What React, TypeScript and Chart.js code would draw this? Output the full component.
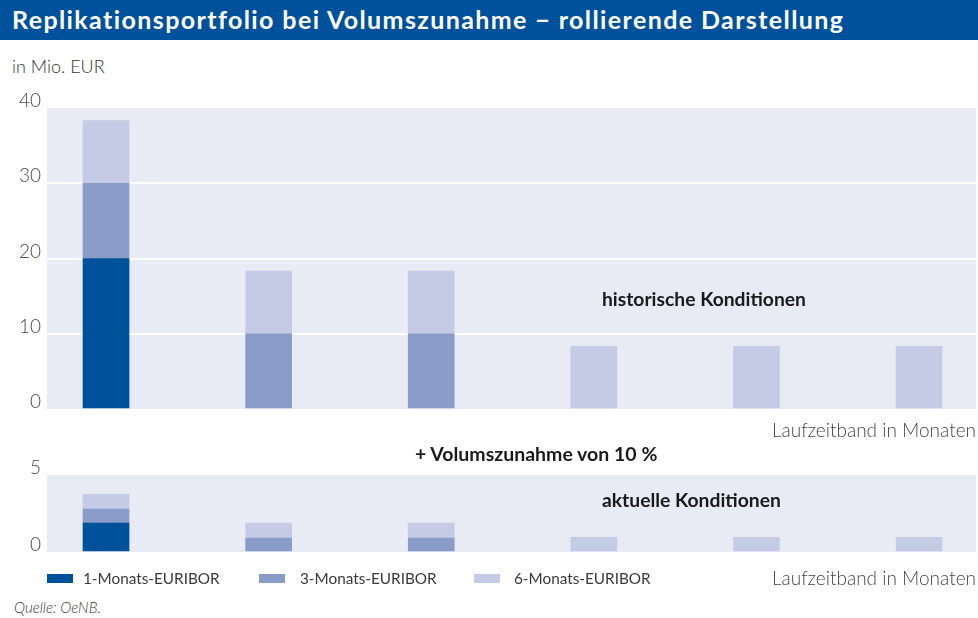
import React, { useEffect, useRef } from 'react';
import { Chart, registerables } from 'chart.js';

Chart.register(...registerables);

// ---- data ----
const bandPositions = [1, 2, 3, 4, 5, 6];
const seriesNames = ['1-Monats-EURIBOR', '3-Monats-EURIBOR', '6-Monats-EURIBOR'];
const seriesColors = ['#00519b', '#899bc8', '#c6cbe5'];

const histOneMonth = [20, 0, 0, 0, 0, 0];
const histThreeMonth = [10, 10, 10, 0, 0, 0];
const histSixMonth = [8.33, 8.33, 8.33, 8.33, 8.33, 8.33];

const curOneMonth = [1.87, 0, 0, 0, 0, 0];
const curThreeMonth = [0.91, 0.91, 0.91, 0, 0, 0];
const curSixMonth = [0.96, 0.96, 0.96, 0.96, 0.96, 0.96];

const histTicks = [0, 10, 20, 30, 40];
const curTicks = [0, 5];

const titleText = 'Replikationsportfolio bei Volumszunahme − rollierende Darstellung';
const unitText = 'in Mio. EUR';
const xAxisText = 'Laufzeitband in Monaten';
const histLabel = 'historische Konditionen';
const curLabel = 'aktuelle Konditionen';
const growthLabel = '+ Volumszunahme von 10 %';
const sourceText = 'Quelle: OeNB.';

const FONT = 'Lato, "Open Sans", sans-serif';
const PLOT_BG = '#e8eaf4';

const bgPlugin = {
  id: 'plotBg',
  beforeDraw(chart: any) {
    const { ctx, chartArea: a } = chart;
    ctx.save();
    ctx.fillStyle = PLOT_BG;
    ctx.fillRect(a.left, a.top, a.right - a.left, a.bottom - a.top);
    ctx.restore();
  },
};

function buildChart(
  canvas: HTMLCanvasElement,
  series: number[][],
  ticks: number[],
  padTop: number,
  xHeight: number,
  titlePadBottom: number
) {
  const maxV = ticks[ticks.length - 1];
  return new Chart(canvas, {
    type: 'bar',
    data: {
      datasets: series.map((vals, i) => ({
        label: seriesNames[i],
        data: vals.map((v, j) => ({ x: bandPositions[j], y: v === 0 ? null : v })),
        backgroundColor: seriesColors[i],
        borderWidth: 0,
        barThickness: 46,
      })),
    },
    options: {
      animation: false,
      responsive: false,
      devicePixelRatio: 1,
      layout: { padding: { top: padTop, left: 0, right: 2, bottom: 0 } },
      plugins: { legend: { display: false }, tooltip: { enabled: false } },
      scales: {
        x: {
          type: 'linear',
          stacked: true,
          offset: false,
          min: 0.637,
          max: 6.35,
          ticks: { display: false },
          grid: { display: false },
          border: { display: false },
          title: {
            display: true,
            text: xAxisText,
            align: 'end',
            color: '#454545',
            font: { family: FONT, size: 19, weight: '300' },
            padding: { top: 0, bottom: titlePadBottom },
          },
          afterFit: (s: any) => {
            s.height = xHeight;
          },
        },
        y: {
          stacked: true,
          min: 0,
          max: maxV,
          afterBuildTicks: (s: any) => {
            s.ticks = ticks.map((v) => ({ value: v }));
          },
          afterFit: (s: any) => {
            s.width = 47;
          },
          ticks: {
            color: '#4a4a4a',
            padding: 6,
            labelOffset: -7,
            font: { family: FONT, size: 19, weight: '300' },
          },
          grid: {
            drawTicks: false,
            lineWidth: 2,
            color: (c: any) =>
              c.tick && (c.tick.value === 0 || c.tick.value === maxV) ? 'rgba(0,0,0,0)' : '#ffffff',
          },
          border: { display: false },
        },
      },
    } as any,
    plugins: [bgPlugin],
  });
}

const textBase: React.CSSProperties = {
  position: 'absolute',
  fontFamily: FONT,
  lineHeight: 1,
  whiteSpace: 'nowrap',
  margin: 0,
};

export default function App() {
  const topRef = useRef<HTMLCanvasElement>(null);
  const botRef = useRef<HTMLCanvasElement>(null);

  useEffect(() => {
    const c1 = buildChart(topRef.current!, [histOneMonth, histThreeMonth, histSixMonth], histTicks, 18, 33, 0);
    const c2 = buildChart(botRef.current!, [curOneMonth, curThreeMonth, curSixMonth], curTicks, 20, 40, 2);
    return () => {
      c1.destroy();
      c2.destroy();
    };
  }, []);

  const legendBoxX = [47, 259, 474];
  const legendTextX = [83, 300, 514];

  return (
    <div
      style={{
        position: 'absolute',
        left: 0,
        top: 0,
        width: 978,
        height: 618,
        background: '#ffffff',
        overflow: 'hidden',
        fontFamily: FONT,
      }}
    >
      <div style={{ position: 'absolute', left: 0, top: 0, width: 978, height: 40, background: '#00519b' }} />
      <div
        style={{
          ...textBase,
          left: 12,
          top: 7,
          color: '#ffffff',
          fontSize: 25,
          fontWeight: 700,
          letterSpacing: '1.4px',
        }}
      >
        {titleText}
      </div>
      <div style={{ ...textBase, left: 12, top: 57, color: '#333333', fontSize: 18, fontWeight: 300 }}>{unitText}</div>

      <canvas
        ref={topRef}
        width={978}
        height={352}
        style={{ position: 'absolute', left: 0, top: 90, width: 978, height: 352 }}
      />
      <canvas
        ref={botRef}
        width={978}
        height={137}
        style={{ position: 'absolute', left: 0, top: 455, width: 978, height: 137 }}
      />

      <div style={{ ...textBase, left: 602, top: 289, color: '#1a1a1a', fontSize: 19.3, fontWeight: 700 }}>{histLabel}</div>
      <div style={{ ...textBase, left: 602, top: 490, color: '#1a1a1a', fontSize: 19.3, fontWeight: 700 }}>{curLabel}</div>
      <div style={{ ...textBase, left: 415, top: 444, color: '#1a1a1a', fontSize: 19.5, fontWeight: 700 }}>{growthLabel}</div>

      {seriesNames.map((n, i) => (
        <React.Fragment key={n}>
          <div
            style={{
              position: 'absolute',
              left: legendBoxX[i],
              top: 574,
              width: 26,
              height: 9,
              background: seriesColors[i],
            }}
          />
          <div style={{ ...textBase, left: legendTextX[i], top: 571, color: '#3a3a3a', fontSize: 15.3, fontWeight: 400 }}>
            {n}
          </div>
        </React.Fragment>
      ))}

      <div style={{ ...textBase, left: 14, top: 600, color: '#3a3a3a', fontSize: 15, fontStyle: 'italic', fontWeight: 300 }}>
        {sourceText}
      </div>
    </div>
  );
}
